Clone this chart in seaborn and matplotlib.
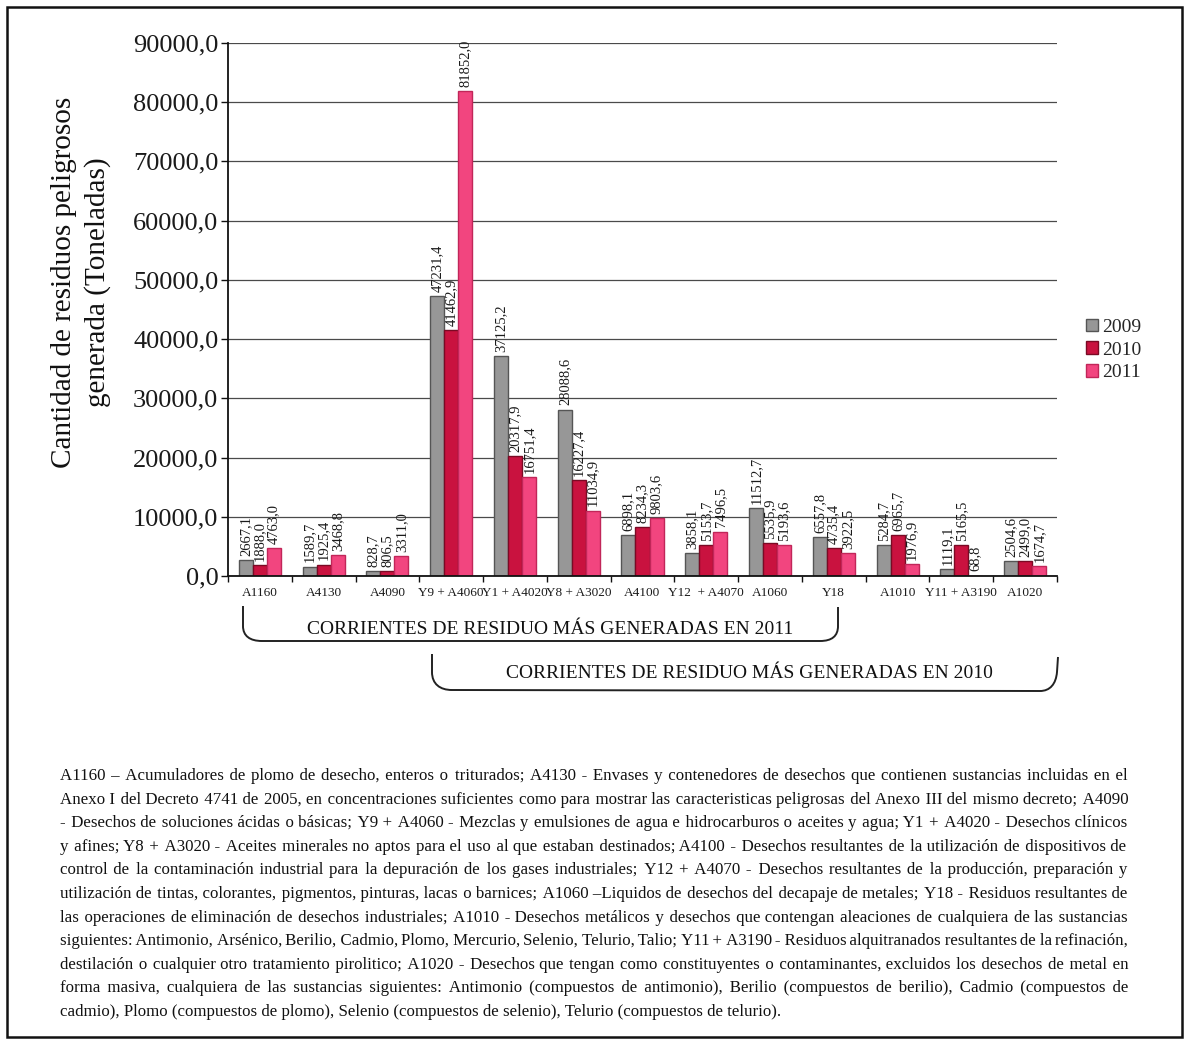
import numpy as np
import pandas as pd
import matplotlib
matplotlib.use("Agg")
import matplotlib.pyplot as plt
import seaborn as sns
from matplotlib.path import Path
from matplotlib.patches import PathPatch, Rectangle
from matplotlib.ticker import FuncFormatter

# ---------------- data ----------------
categories = ["A1160", "A4130", "A4090", "Y9 + A4060", "Y1 + A4020", "Y8 + A3020",
              "A4100", "Y12  + A4070", "A1060", "Y18", "A1010", "Y11 + A3190", "A1020"]
years = ["2009", "2010", "2011"]
v2009 = [2667.1, 1589.7, 828.7, 47231.4, 37125.2, 28088.6, 6898.1, 3858.1, 11512.7,
         6557.8, 5284.7, 1119.1, 2504.6]
v2010 = [1888.0, 1925.4, 806.5, 41462.9, 20317.9, 16227.4, 8234.3, 5153.7, 5535.9,
         4735.4, 6965.7, 5165.5, 2499.0]
v2011 = [4763.0, 3468.8, 3311.0, 81852.0, 16751.4, 11034.9, 9803.6, 7496.5, 5193.6,
         3922.5, 1976.9, 68.8, 1674.7]
yticks = [0, 10000, 20000, 30000, 40000, 50000, 60000, 70000, 80000, 90000]
ylabel = "Cantidad de residuos peligrosos\ngenerada (Toneladas)"
bracket_texts = ["CORRIENTES DE RESIDUO MÁS GENERADAS EN 2011",
                 "CORRIENTES DE RESIDUO MÁS GENERADAS EN 2010"]
notes_lines = [
    "A1160 – Acumuladores de plomo de desecho, enteros o triturados; A4130 - Envases y contenedores de desechos que contienen sustancias incluidas en el",
    "Anexo I del Decreto 4741 de 2005, en concentraciones suficientes como para mostrar las caracteristicas peligrosas del Anexo III del mismo decreto; A4090",
    "- Desechos de soluciones ácidas o básicas; Y9 + A4060 - Mezclas y emulsiones de agua e hidrocarburos o aceites y agua; Y1 + A4020 - Desechos clínicos",
    "y afines; Y8 + A3020 - Aceites minerales no aptos para el uso al que estaban destinados; A4100 - Desechos resultantes de la utilización de dispositivos de",
    "control de la contaminación industrial para la depuración de los gases industriales; Y12 + A4070 - Desechos resultantes de la producción,  preparación y",
    "utilización de tintas, colorantes, pigmentos, pinturas, lacas o barnices; A1060 –Liquidos de desechos del decapaje de metales; Y18 - Residuos resultantes de",
    "las operaciones de eliminación de desechos industriales; A1010 - Desechos metálicos y desechos que contengan aleaciones de cualquiera de las sustancias",
    "siguientes: Antimonio, Arsénico, Berilio, Cadmio, Plomo, Mercurio, Selenio, Telurio, Talio; Y11 + A3190 - Residuos alquitranados resultantes de la refinación,",
    "destilación o cualquier otro tratamiento pirolitico; A1020 - Desechos que tengan como constituyentes o contaminantes, excluidos los desechos de metal en",
    "forma masiva, cualquiera de las sustancias siguientes: Antimonio (compuestos de antimonio), Berilio (compuestos de berilio), Cadmio (compuestos de",
    "cadmio), Plomo (compuestos de plomo), Selenio (compuestos de selenio), Telurio (compuestos de telurio).",
]

# ---------------- style ----------------
fills = ["#979797", "#c9123f", "#f2457f"]
edges = ["#555555", "#7a0a24", "#c12659"]

sns.set_theme(style="white")
plt.rcParams["font.family"] = ["Liberation Serif", "DejaVu Serif"]

W, H = 1189, 1044
fig = plt.figure(figsize=(W / 100, H / 100), dpi=100)
fig.patch.set_facecolor("white")


def P(x, y):
    return (x / W, 1 - y / H)


ax = fig.add_axes([228 / W, 1 - 576 / H, (1057 - 228) / W, (576 - 43) / H])

df = pd.DataFrame({
    "cat": categories * 3,
    "year": [years[0]] * len(categories) + [years[1]] * len(categories) + [years[2]] * len(categories),
    "val": v2009 + v2010 + v2011,
})

sns.barplot(data=df, x="cat", y="val", hue="year", order=categories, hue_order=years,
            palette=dict(zip(years, fills)), saturation=1, width=0.66, errorbar=None,
            linewidth=1.0, edgecolor="#555555", legend=False, ax=ax)

for cont, ec in zip(ax.containers, edges):
    for p in cont:
        p.set_edgecolor(ec)
    ax.bar_label(cont, fmt=lambda v: f"{v:.1f}".replace(".", ","), rotation=90,
                 padding=3, fontsize=10.5, color="#1a1a1a")

ax.set_xlim(-0.5, len(categories) - 0.5)
ax.set_ylim(0, 90000)
ax.set_yticks(yticks)
ax.yaxis.set_major_formatter(FuncFormatter(lambda v, p: f"{v:.1f}".replace(".", ",")))
ax.set_xlabel("")
ax.set_ylabel("")
ax.set_axisbelow(True)
ax.yaxis.grid(True, color="#4a4a4a", linewidth=0.9)
ax.xaxis.grid(False)
for s in ["top", "right"]:
    ax.spines[s].set_visible(False)
for s in ["left", "bottom"]:
    ax.spines[s].set_color("#111111")
    ax.spines[s].set_linewidth(1.3)

ax.tick_params(axis="y", direction="out", length=5, width=1, color="#111111",
               labelsize=19, pad=2, labelcolor="#1a1a1a", left=True)
ax.tick_params(axis="x", which="major", length=0, labelsize=9.5, pad=8, labelcolor="#1a1a1a")
ax.set_xticks(np.arange(-0.5, len(categories), 1), minor=True)
ax.tick_params(axis="x", which="minor", direction="out", length=4, width=1,
               color="#111111", bottom=True)

handles = [Rectangle((0, 0), 1, 1, facecolor=f, edgecolor=e, linewidth=1) for f, e in zip(fills, edges)]
ax.legend(handles, years, loc="center left", bbox_to_anchor=(1.035, 0.424), frameon=False,
          fontsize=14, handlelength=0.6, handleheight=0.6, handletextpad=0.25,
          labelspacing=0.3, borderpad=0, borderaxespad=0)

# y label
fig.text(*P(81, 282), ylabel, rotation=90, ha="center", va="center", fontsize=21,
         multialignment="center", linespacing=1.3, color="#111111")


# brackets
def bracket(pts, codes):
    verts = [P(x, y) for x, y in pts]
    patch = PathPatch(Path(verts, codes), transform=fig.transFigure, fill=False,
                      edgecolor="#222222", linewidth=1.4)
    fig.patches.append(patch)


M, L, C = Path.MOVETO, Path.LINETO, Path.CURVE4
bracket([(243, 606), (243, 626), (243, 636), (250, 641), (262, 641), (820, 641),
         (832, 641), (838, 636), (838, 626), (838, 607)],
        [M, L, C, C, C, L, C, C, C, L])
bracket([(432, 654), (432, 672), (432, 684), (440, 690), (452, 690), (1040, 691),
         (1050, 691), (1056, 684), (1057, 672), (1058, 657)],
        [M, L, C, C, C, L, C, C, C, L])
fig.text(*P(550, 630), bracket_texts[0], ha="center", va="center", fontsize=14, color="#111111")
fig.text(*P(749, 674), bracket_texts[1], ha="center", va="center", fontsize=14, color="#111111")

# justified notes paragraph (one text object per line, spacing built from spaces)
renderer = fig.canvas.get_renderer()
x0, x1 = 60, 1128
target = x1 - x0


def tw(s, size):
    t = fig.text(0, 0, s, fontsize=size)
    w = t.get_window_extent(renderer).width
    t.remove()
    return w


fs0 = 12.0
ratios = []
for line in notes_lines[:-1]:
    words = line.split()
    nat = sum(tw(w, fs0) for w in words) + (len(words) - 1) * 0.22 * fs0 * 100 / 72
    ratios.append(target / nat)
fs = fs0 * min(ratios)

sw = tw("a a", fs) - tw("aa", fs)
HS = "\u200a"
hw = tw("a" + HS + "a", fs) - tw("aa", fs)
if hw <= 0.3:
    HS = "\u2009"
    hw = tw("a" + HS + "a", fs) - tw("aa", fs)

for i, line in enumerate(notes_lines):
    words = line.split()
    base_y = 780 + i * 23.6
    if i == len(notes_lines) - 1:
        s = " ".join(words)
    else:
        ws = [tw(w, fs) for w in words]
        g = (target - sum(ws)) / (len(words) - 1)
        s = words[0]
        pos = ws[0]
        for j in range(1, len(words)):
            want = sum(ws[:j]) + j * g
            need = want - pos
            n_sp = max(int(need // sw), 0)
            rem = need - n_sp * sw
            n_h = max(int(round(rem / hw)), 0) if hw > 0 else 0
            if n_sp == 0 and n_h == 0:
                n_h = 1
            s += " " * n_sp + HS * n_h + words[j]
            pos += n_sp * sw + n_h * hw + ws[j]
    fig.text(*P(x0, base_y), s, fontsize=fs, ha="left", va="baseline", color="#111111")

# outer border
fig.patches.append(Rectangle(P(7, 1037), (1182 - 7) / W, (1037 - 7) / H, transform=fig.transFigure,
                             fill=False, edgecolor="#111111", linewidth=1.8))

fig.savefig("out.png", dpi=100, facecolor="white")
